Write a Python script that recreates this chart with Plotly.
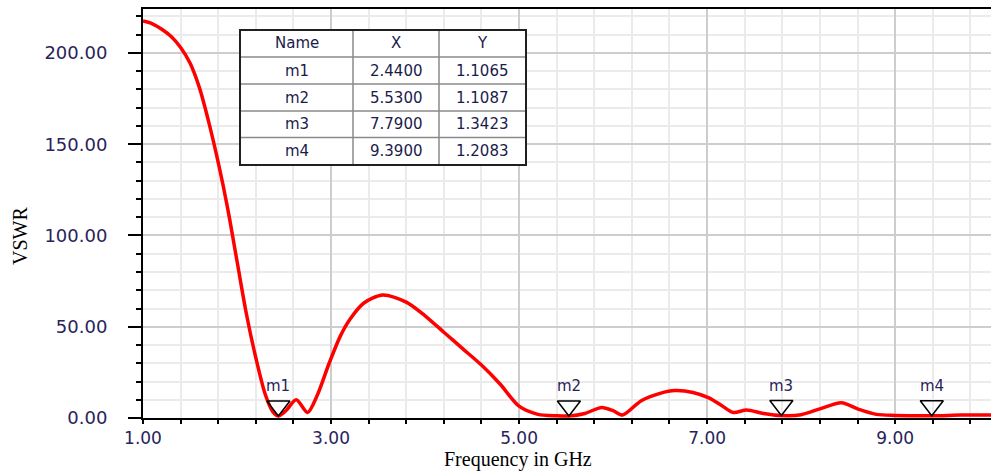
import plotly.graph_objects as go

# Curve data (frequency in GHz, VSWR)
freq = [1.0, 1.1, 1.2, 1.3, 1.4, 1.5, 1.6, 1.7, 1.8, 1.9, 2.0, 2.1, 2.2, 2.3, 2.38, 2.44,
        2.52, 2.63, 2.75, 2.85, 2.98, 3.1, 3.2, 3.35, 3.55, 3.8, 4.0, 4.2, 4.4, 4.6,
        4.8, 5.0, 5.2, 5.4, 5.53, 5.7, 5.88, 6.0, 6.1, 6.3, 6.5, 6.66, 6.85, 7.02,
        7.15, 7.28, 7.42, 7.6, 7.79, 8.0, 8.2, 8.43, 8.6, 8.8, 9.0, 9.39, 9.7, 10.02]
vswr = [217.5, 216.0, 213.0, 209.0, 203.0, 194.5, 181.0, 162.0, 140.0, 115.0, 86.0,
        57.0, 33.0, 13.0, 3.5, 1.1, 4.0, 10.0, 3.0, 12.0, 30.0, 45.0, 54.0, 63.0,
        67.4, 63.5, 56.0, 47.0, 38.0, 29.0, 18.5, 6.5, 2.0, 1.2, 1.1, 2.5, 5.8, 4.0,
        1.6, 9.5, 13.5, 15.0, 14.0, 11.0, 7.0, 3.0, 4.4, 2.5, 1.34, 1.8, 5.0, 8.4,
        5.0, 2.0, 1.4, 1.2, 1.6, 1.7]

# Markers
marker_names = ["m1", "m2", "m3", "m4"]
marker_x = [2.44, 5.53, 7.79, 9.39]
marker_y = [1.1065, 1.1087, 1.3423, 1.2083]

table_header = ["Name", "X", "Y"]

tick_color = "#28235a"
W, H = 991, 472
ml, mr, mt, mb = 143, 0, 9, 54
PW, PH = W - ml - mr, H - mt - mb
y_top = 224.1
px_per_unit = PH / y_top
tri_size = 20
tri_offset = (tri_size / 2) / px_per_unit


def px_x(p):
    return (p - ml) / PW


def px_y(p):
    return (H - mb - p) / PH


fig = go.Figure()

fig.add_trace(go.Scatter(
    x=freq, y=vswr, mode="lines",
    line=dict(color="#ff0000", width=3.5, shape="spline", smoothing=0.8),
    showlegend=False, hoverinfo="skip"))

fig.add_trace(go.Scatter(
    x=marker_x, y=[v + tri_offset for v in marker_y], mode="markers",
    marker=dict(symbol="triangle-down-open", size=tri_size,
                color="#000000", line=dict(color="#000000", width=1.5)),
    showlegend=False, hoverinfo="skip"))

for n, mx, my in zip(marker_names, marker_x, marker_y):
    fig.add_annotation(x=mx, y=my, xref="x", yref="y", text=n, showarrow=False,
                       yanchor="bottom", yshift=19,
                       font=dict(family="DejaVu Sans", size=15, color=tick_color))

# Marker table (drawn with shapes + text)
tl, tr, tt, tb = 240, 526, 30, 165
col_edges = [tl, 353, 439, tr]
row_edges = [tt, 57, 84, 111, 137.5, tb]
fig.add_shape(type="rect", xref="paper", yref="paper",
              x0=px_x(tl), x1=px_x(tr), y0=px_y(tb), y1=px_y(tt),
              fillcolor="white", line=dict(width=0), layer="above")
for cx in col_edges[1:-1]:
    fig.add_shape(type="line", xref="paper", yref="paper",
                  x0=px_x(cx), x1=px_x(cx), y0=px_y(tb), y1=px_y(tt),
                  line=dict(color="#8a8a8a", width=1.5), layer="above")
for ry in row_edges[1:-1]:
    fig.add_shape(type="line", xref="paper", yref="paper",
                  x0=px_x(tl), x1=px_x(tr), y0=px_y(ry), y1=px_y(ry),
                  line=dict(color="#8a8a8a", width=1.5), layer="above")
fig.add_shape(type="rect", xref="paper", yref="paper",
              x0=px_x(tl), x1=px_x(tr), y0=px_y(tb), y1=px_y(tt),
              line=dict(color="#202020", width=2), layer="above")

table_cols = [table_header[0:1] + marker_names,
              table_header[1:2] + [f"{v:.4f}" for v in marker_x],
              table_header[2:3] + [f"{v:.4f}" for v in marker_y]]
for ci, col in enumerate(table_cols):
    cxm = (col_edges[ci] + col_edges[ci + 1]) / 2
    for ri, txt in enumerate(col):
        cym = (row_edges[ri] + row_edges[ri + 1]) / 2
        fig.add_annotation(x=px_x(cxm), y=px_y(cym), xref="paper", yref="paper",
                           text=txt, showarrow=False, xanchor="center",
                           yanchor="middle",
                           font=dict(family="DejaVu Sans", size=15, color="#1b1b4b"))

fig.add_annotation(x=px_x(20), y=px_y(236), xref="paper", yref="paper", text="VSWR",
                   textangle=-90, showarrow=False, xanchor="center", yanchor="middle",
                   font=dict(family="Liberation Serif", size=20, color="#000000"))
fig.add_annotation(x=px_x(518), y=px_y(460), xref="paper", yref="paper",
                   text="Frequency in GHz", showarrow=False, xanchor="center",
                   yanchor="middle",
                   font=dict(family="Liberation Serif", size=20, color="#000000"))

fig.update_layout(
    width=W, height=H, margin=dict(l=ml, r=mr, t=mt, b=mb),
    paper_bgcolor="white", plot_bgcolor="white",
    xaxis=dict(range=[1.0, 10.02], tick0=1, dtick=2, tickformat=".2f",
               showline=True, linecolor="#000000", linewidth=2, mirror=True,
               ticks="outside", ticklen=4, tickwidth=2, tickcolor="#000000",
               showgrid=True, gridcolor="#cdcdcd", gridwidth=2, zeroline=False,
               tickfont=dict(family="DejaVu Sans", size=17, color=tick_color),
               minor=dict(tick0=1, dtick=0.4, ticks="outside", ticklen=4, tickwidth=2,
                          tickcolor="#000000", showgrid=True, gridcolor="#ebebeb",
                          gridwidth=2)),
    yaxis=dict(range=[0, y_top], tick0=0, dtick=50, tickformat=".2f",
               showline=True, linecolor="#000000", linewidth=2, mirror=False,
               ticks="outside", ticklen=13, tickwidth=2, tickcolor="#000000",
               ticklabelstandoff=17,
               showgrid=True, gridcolor="#cdcdcd", gridwidth=2, zeroline=False,
               tickfont=dict(family="DejaVu Sans", size=18, color=tick_color),
               minor=dict(tick0=0, dtick=10, ticks="outside", ticklen=5, tickwidth=2,
                          tickcolor="#000000", showgrid=True, gridcolor="#ebebeb",
                          gridwidth=2)),
)

fig.write_html("out.html")
